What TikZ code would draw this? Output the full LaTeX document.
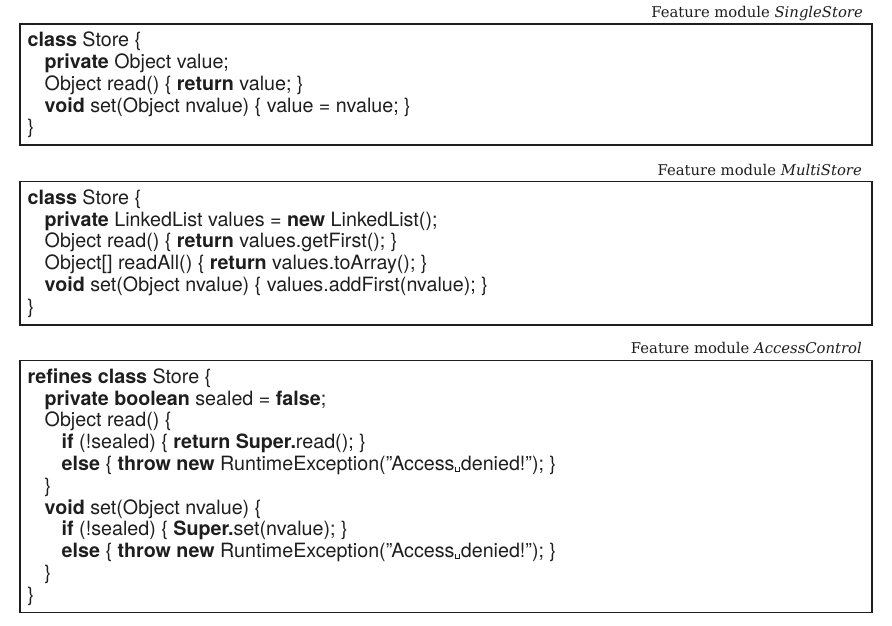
\documentclass[tikz,border=0pt]{standalone}
\usepackage{fontspec}
\setmainfont{DejaVu Serif}
\newfontfamily\codefont{TeX Gyre Heros}
\newcommand\kw[1]{\textbf{#1}}
\newcommand\ia{\hspace*{17pt}}
\newcommand\visp{\kern.02em\vrule width .06em height .18em depth 0pt\kern-.06em\vrule width .28em height 0pt depth .06em\kern-.06em\vrule width .06em height .18em depth 0pt\kern.02em}
\definecolor{ink}{HTML}{1E1E1E}
\begin{document}
\begin{tikzpicture}[x=1pt,y=-1pt,
  frame/.style={draw=ink, line width=1.2pt},
  code/.style={anchor=base west, inner sep=0pt, text=ink,
    font=\codefont\fontsize{19.7}{21.8}\selectfont},
  title/.style={anchor=base east, inner sep=0pt, text=ink,
    font=\fontsize{14.8}{17}\selectfont}]
\useasboundingbox (0,0) rectangle (892,625);

% Box 1
\node[title] (t1) at (863,17.3) {Feature module \textit{SingleStore}};
\draw[frame] (20,24) rectangle (872,145);
\node[code] (c1) at (27.5,46.6) {\begin{tabular}[t]{@{}l@{}}
\kw{class} Store \{\\
\ia\kw{private} Object value;\\
\ia Object read() \{ \kw{return} value; \}\\
\ia\kw{void} set(Object nvalue) \{ value = nvalue; \}\\
\}
\end{tabular}};

% Box 2
\node[title] (t2) at (862,175) {Feature module \textit{MultiStore}};
\draw[frame] (20,181.7) rectangle (872,325);
\node[code] (c2) at (27.5,204.3) {\begin{tabular}[t]{@{}l@{}}
\kw{class} Store \{\\
\ia\kw{private} LinkedList values = \kw{new} LinkedList();\\
\ia Object read() \{ \kw{return} values.getFirst(); \}\\
\ia Object[] readAll() \{ \kw{return} values.toArray(); \}\\
\ia\kw{void} set(Object nvalue) \{ values.addFirst(nvalue); \}\\
\}
\end{tabular}};

% Box 3
\node[title] (t3) at (862,353.3) {Feature module \textit{AccessControl}};
\draw[frame] (20,360.7) rectangle (872,612.3);
\node[code] (c3) at (27.5,383.3) {\begin{tabular}[t]{@{}l@{}}
\kw{refines class} Store \{\\
\ia\kw{private boolean} sealed = \kw{false};\\
\ia Object read() \{\\
\ia\ia\kw{if} (!sealed) \{ \kw{return Super.}read(); \}\\
\ia\ia\kw{else} \{ \kw{throw new} RuntimeException(”Access\visp denied!”); \}\\
\ia\}\\
\ia\kw{void} set(Object nvalue) \{\\
\ia\ia\kw{if} (!sealed) \{ \kw{Super.}set(nvalue); \}\\
\ia\ia\kw{else} \{ \kw{throw new} RuntimeException(”Access\visp denied!”); \}\\
\ia\}\\
\}
\end{tabular}};
\end{tikzpicture}
\end{document}
